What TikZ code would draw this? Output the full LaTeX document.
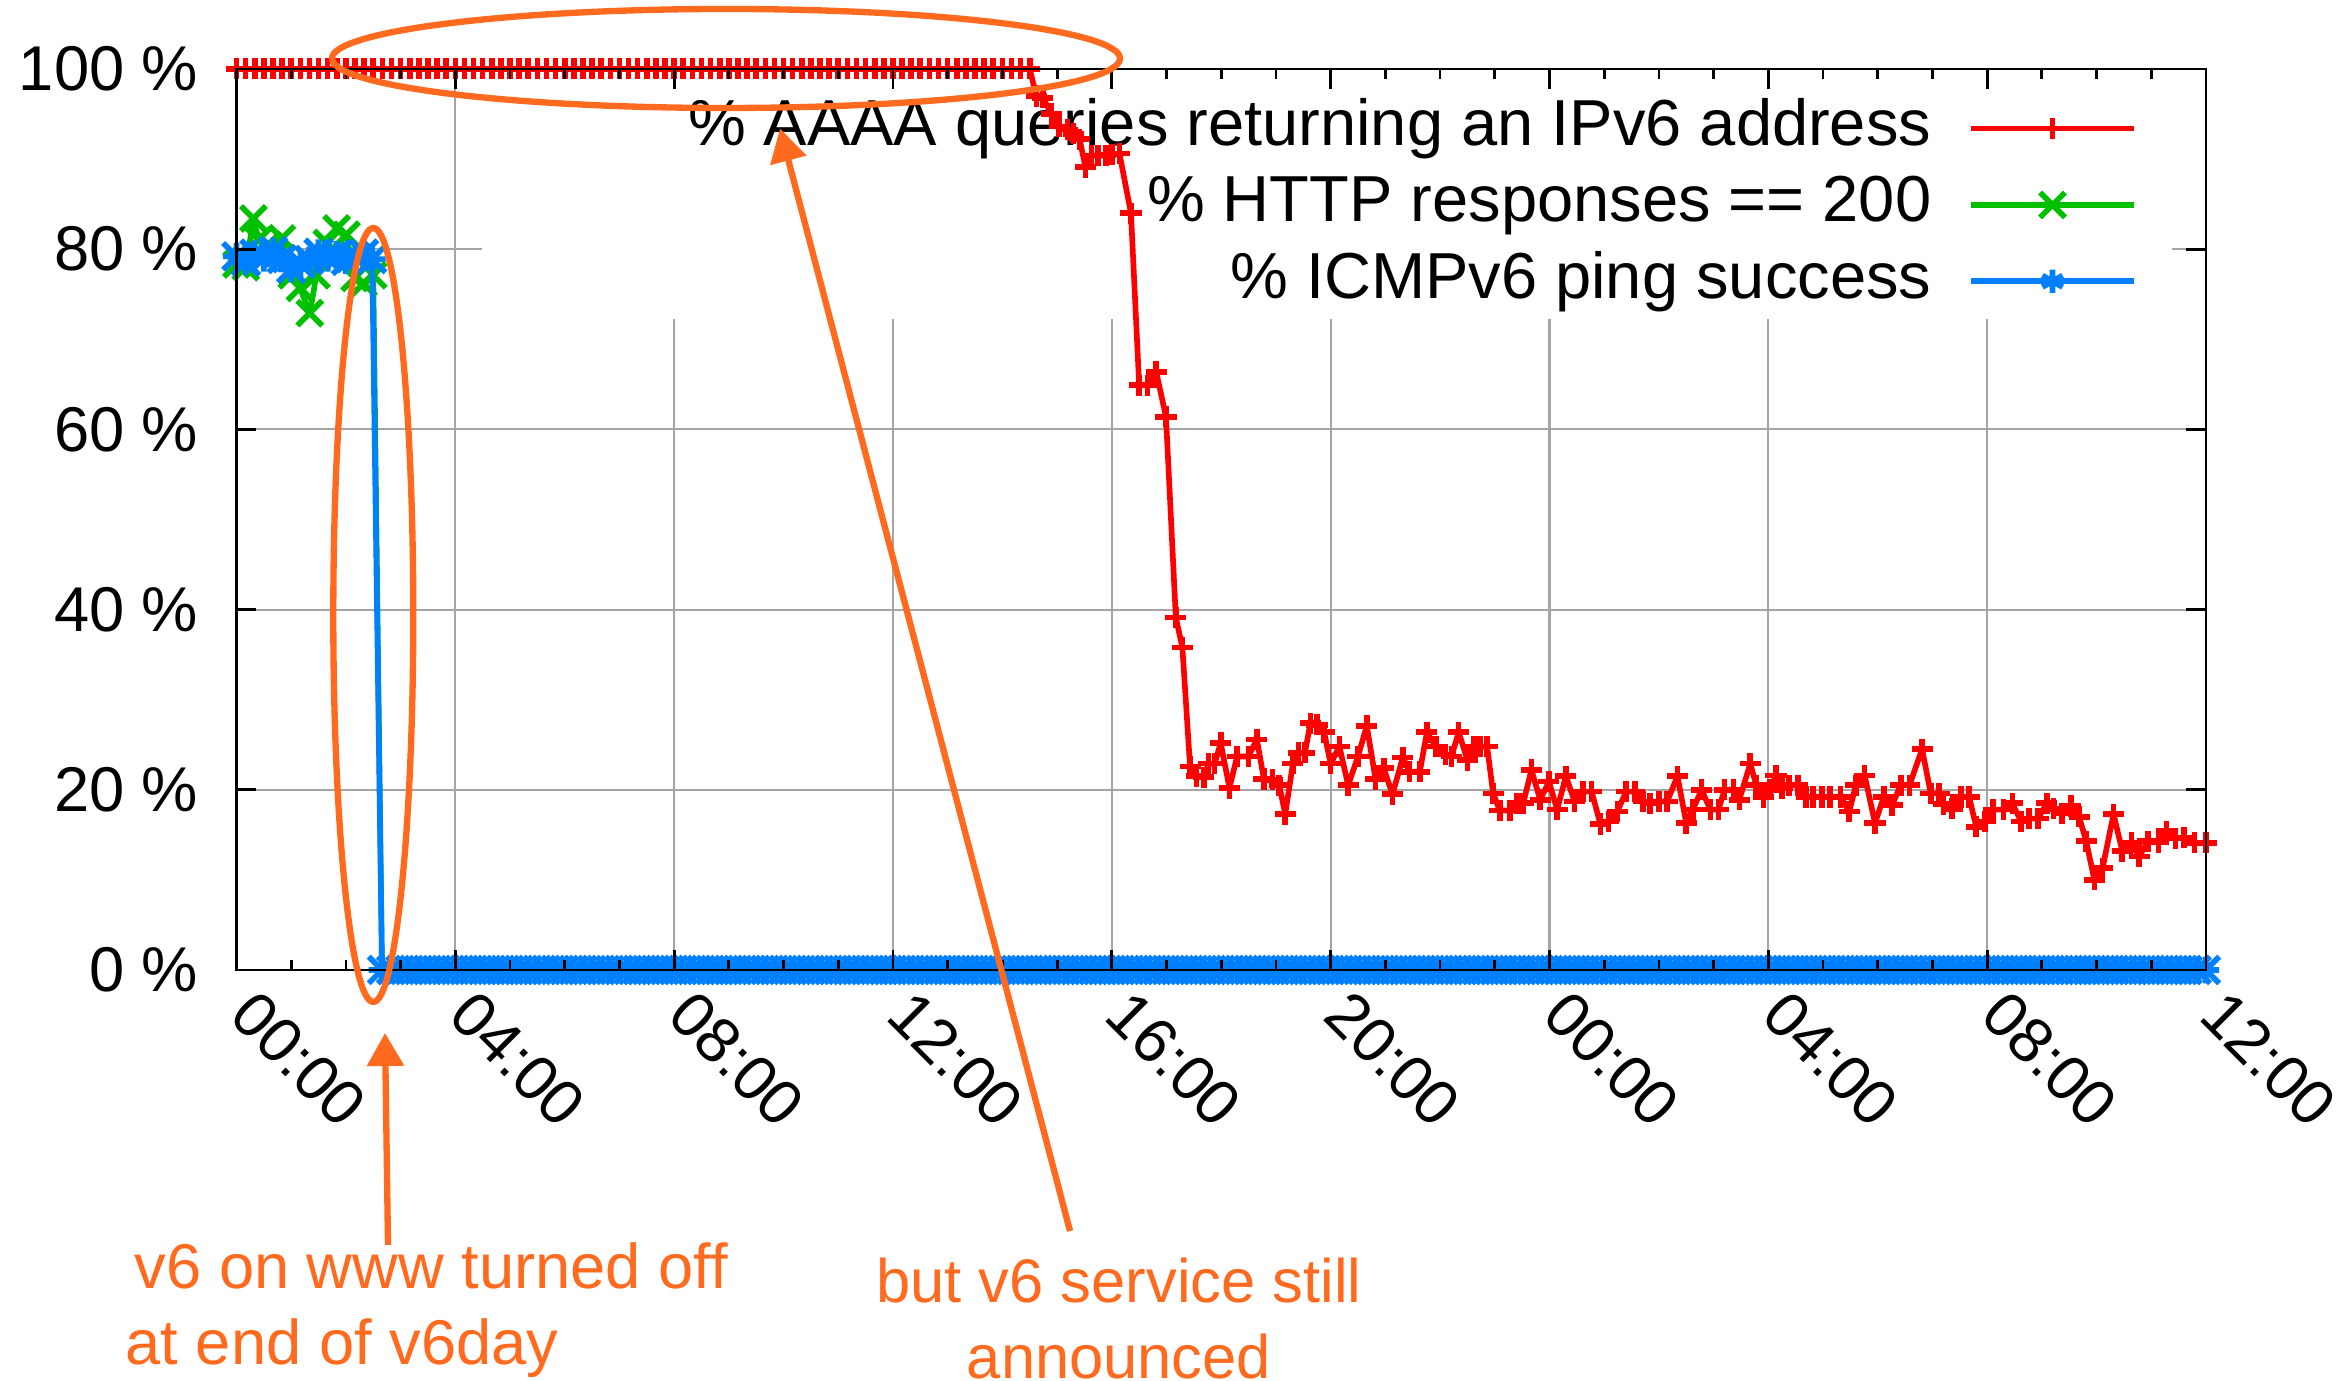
\documentclass[tikz,border=0pt]{standalone}
\usepackage{fontspec}
\setmainfont{Liberation Sans}
\usetikzlibrary{arrows.meta, shapes.geometric, plotmarks}
\definecolor{icmpblue}{RGB}{0, 128, 255}
\definecolor{httpgreen}{RGB}{0, 192, 0}
\definecolor{aaaared}{RGB}{255, 0, 0}
\definecolor{gridgrey}{RGB}{165, 165, 165}
\definecolor{noteorange}{RGB}{255, 106, 30}
% gnuplot style "*": a plus and a cross on top of each other
\pgfdeclareplotmark{plusx}{%
    \pgfpathmoveto{\pgfqpoint{0pt}{\pgfplotmarksize}}
    \pgfpathlineto{\pgfqpoint{0pt}{-\pgfplotmarksize}}
    \pgfpathmoveto{\pgfqpoint{\pgfplotmarksize}{0pt}}
    \pgfpathlineto{\pgfqpoint{-\pgfplotmarksize}{0pt}}
    \pgfpathmoveto{\pgfqpoint{\pgfplotmarksize}{\pgfplotmarksize}}
    \pgfpathlineto{\pgfqpoint{-\pgfplotmarksize}{-\pgfplotmarksize}}
    \pgfpathmoveto{\pgfqpoint{-\pgfplotmarksize}{\pgfplotmarksize}}
    \pgfpathlineto{\pgfqpoint{\pgfplotmarksize}{-\pgfplotmarksize}}
    \pgfusepathqstroke}
\tikzset{
    gridline/.style={draw=gridgrey, line width=0.6pt},
    frame/.style={line width=0.8pt},
    series/.style={line width=1.6pt, line join=round,
        mark options={solid, line width=1.6pt}},
    aaaa/.style={series, aaaared, mark=+, mark size=3pt},
    http/.style={series, httpgreen, mark=x, mark size=5pt},
    icmp/.style={series, icmpblue, mark=plusx, mark size=3.8pt},
    ticklabel/.style={font=\fontsize{18}{21}\selectfont, inner sep=0pt},
    keytext/.style={font=\fontsize{18.5}{22}\selectfont, inner sep=0pt,
        anchor=base east},
    note/.style={draw=noteorange, line width=1.8pt},
    notearrow/.style={note, -{Triangle[width=0.36cm, length=0.33cm]}},
    notetext/.style={text=noteorange, inner sep=0pt},
}

\begin{document}
\begin{tikzpicture}
    \useasboundingbox (-2.365, -4.11) rectangle (21.105, 9.70);

    % grid, left open where the key sits
    \foreach \p in {20, 40, 60}
        \draw[gridline] (0, \p*0.0901) -- (19.695, \p*0.0901);
    \draw[gridline] (0, 7.208) -- (2.455, 7.208) (19.355, 7.208) -- (19.695, 7.208);
    \draw[gridline] (2.18833, 0) -- (2.18833, 9.01);
    \foreach \k in {2, ..., 8}
        \draw[gridline] (\k*2.18833, 0) -- (\k*2.18833, 6.51);

    % key
    \node[keytext] (keyaaaa) at (16.955, 8.243)
        {\% AAAA queries returning an IPv6 address};
    \node[keytext] (keyhttp) at (16.955, 7.48) {\% HTTP responses == 200};
    \node[keytext] (keyicmp) at (16.955, 6.717) {\% ICMPv6 ping success};
    \draw[aaaa] plot[mark indices={2}] coordinates
        {(17.345, 8.413) (18.16, 8.413) (18.975, 8.413)};
    \draw[http] plot[mark indices={2}] coordinates
        {(17.345, 7.65) (18.16, 7.65) (18.975, 7.65)};
    \draw[icmp, mark=asterisk, mark size=3.3pt] plot[mark indices={2}] coordinates
        {(17.345, 6.887) (18.16, 6.887) (18.975, 6.887)};

    % data: hours against percent
    \begin{scope}[x=0.54708cm, y=0.0901cm]
        \draw[http] plot[mark indices={1,...,16}] coordinates {(0, 78.3)
            (0.17, 78.0) (0.31, 83.4) (0.40, 81.0) (0.58, 80.5) (0.83, 81.2)
            (1.01, 77.1) (1.16, 75.7) (1.34, 72.9) (1.46, 77.1) (1.65, 80.7)
            (1.83, 82.3) (2.01, 81.6) (2.16, 76.8) (2.32, 76.2) (2.50, 77.1)
            (2.66, 0)};
        \draw[icmp] plot coordinates {(0, 79.2) (0.17, 78.6) (0.33, 79.5)
            (0.50, 79.0) (0.67, 79.8) (0.83, 78.9) (1.0, 77.8) (1.17, 78.4)
            (1.33, 78.8) (1.50, 79.6) (1.67, 79.0) (1.83, 79.4) (2.0, 78.7)
            (2.17, 79.2) (2.33, 79.5) (2.48, 78.9)}
            -- plot[domain=2.66:36, samples=201] (\x, 0);
        \draw[aaaa] plot[domain=0:14.5, samples=88] (\x, 100)
            -- plot coordinates {(14.62, 97.0) (14.74, 96.8) (14.9, 95.0)
            (15.04, 93.6) (15.19, 93.3) (15.3, 92.8) (15.41, 92.2)
            (15.52, 89.1) (15.63, 90.4) (15.75, 90.4) (15.89, 90.4)
            (16.0, 90.5) (16.14, 90.6) (16.35, 84.0) (16.50, 64.9)
            (16.65, 64.9) (16.81, 66.4) (16.99, 61.4) (17.17, 39.1)
            (17.29, 35.8) (17.43, 22.6) (17.55, 21.5) (17.68, 21.4)
            (17.77, 22.9) (17.88, 22.9) (17.99, 25.2) (18.15, 20.2)
            (18.29, 23.7) (18.50, 23.7) (18.65, 25.6) (18.78, 21.2)
            (18.94, 21.1) (19.06, 20.5) (19.17, 17.3) (19.31, 22.9)
            (19.41, 24.1) (19.53, 24.1) (19.63, 27.4) (19.75, 27.2)
            (19.88, 26.4) (20.00, 22.9) (20.16, 24.8) (20.32, 20.5)
            (20.50, 23.7) (20.66, 27.1) (20.82, 21.2) (20.97, 22.4)
            (21.13, 19.5) (21.32, 23.6) (21.44, 22.0) (21.63, 22.0)
            (21.76, 26.4) (21.92, 24.8) (22.10, 23.9) (22.21, 23.7)
            (22.34, 26.4) (22.50, 23.3) (22.62, 24.8) (22.73, 24.8)
            (22.86, 24.8) (22.97, 19.6) (23.09, 17.7) (23.28, 17.7)
            (23.41, 18.5) (23.52, 18.5) (23.67, 22.2) (23.83, 18.9)
            (23.99, 20.9) (24.14, 17.8) (24.30, 21.5) (24.46, 18.7)
            (24.61, 19.8) (24.77, 19.8) (24.93, 16.2) (25.08, 16.5)
            (25.24, 17.6) (25.40, 19.8) (25.56, 19.8) (25.71, 18.7)
            (25.84, 18.5) (26.00, 18.7) (26.15, 18.7) (26.34, 21.5)
            (26.50, 16.3) (26.62, 17.8) (26.78, 20.0) (26.94, 17.8)
            (27.09, 17.8) (27.20, 20.0) (27.36, 20.0) (27.47, 18.9)
            (27.67, 22.9) (27.78, 20.5) (27.91, 19.2) (28.03, 20.0)
            (28.14, 21.6) (28.25, 20.2) (28.38, 20.5) (28.54, 20.5)
            (28.69, 19.2) (28.82, 19.2) (28.98, 19.2) (29.13, 19.2)
            (29.32, 19.2) (29.48, 17.6) (29.60, 20.5) (29.76, 21.6)
            (29.95, 16.3) (30.11, 19.2) (30.26, 18.3) (30.42, 20.5)
            (30.58, 20.5) (30.81, 24.5) (30.97, 19.6) (31.12, 19.6)
            (31.20, 18.4) (31.36, 17.9) (31.52, 19.2) (31.67, 19.2)
            (31.80, 15.9) (31.96, 16.5) (32.11, 17.8) (32.30, 17.8)
            (32.46, 18.5) (32.62, 16.5) (32.77, 16.8) (32.93, 16.8)
            (33.09, 18.5) (33.21, 17.9) (33.37, 17.4) (33.53, 18.2)
            (33.68, 17.0) (33.81, 14.3) (33.96, 10.0) (34.11, 11.3)
            (34.31, 17.3) (34.47, 13.2) (34.64, 14.1) (34.78, 12.6)
            (34.94, 14.3) (35.13, 14.2) (35.28, 15.4) (35.44, 14.6)
            (35.60, 14.7) (35.79, 14.1) (36.0, 14.1)};
    \end{scope}

    % frame and ticks
    \draw[frame] (0, 0) rectangle (19.695, 9.01);
    \foreach \h in {1, ..., 35}
        \draw[frame] (\h*0.54708, 0) -- ++(0, 0.1)
            (\h*0.54708, 9.01) -- ++(0, -0.1);
    \foreach \k in {1, ..., 8}
        \draw[frame] (\k*2.18833, 0) -- ++(0, 0.2)
            (\k*2.18833, 9.01) -- ++(0, -0.2);
    \foreach \p in {20, 40, 60, 80}
        \draw[frame] (0, \p*0.0901) -- ++(0.2, 0)
            (19.695, \p*0.0901) -- ++(-0.2, 0);
    \foreach \p in {0, 20, ..., 100}
        \node[ticklabel, anchor=east] (ylab\p) at (-0.375, \p*0.0901) {\p\ \%};
    \foreach \k/\t in {0/00:00, 1/04:00, 2/08:00, 3/12:00, 4/16:00, 5/20:00,
            6/00:00, 7/04:00, 8/08:00, 9/12:00}
        \node[ticklabel, rotate=-45, anchor=west] (xlab\k)
            at (\k*2.18833+0.06, -0.33) {\t};

    % annotations
    \node[note, ellipse, minimum width=7.88cm, minimum height=0.99cm,
        inner sep=0pt] (topring) at (4.895, 9.115) {};
    \node[note, ellipse, minimum width=0.80cm, minimum height=7.74cm,
        inner sep=0pt] (dropring) at (1.368, 3.55) {};
    \node[notetext, font=\fontsize{18}{21.5}\selectfont, align=left,
        anchor=north west] (offnote) at (-1.025, -2.72)
        {v6 on www turned off\\\hspace*{-0.09cm}at end of v6day};
    \node[notetext, font=\fontsize{17.5}{21.5}\selectfont, align=center,
        anchor=north] (stillnote) at (8.825, -2.877)
        {but v6 service still\\announced};
    \coordinate (offtip) at (1.485, -0.63);
    \coordinate (stilltip) at (5.435, 8.415);
    \draw[notearrow] ([shift={(2.54, -0.03)}]offnote.north west) -- (offtip);
    \draw[notearrow] ([shift={(-0.49, 0.267)}]stillnote.north) -- (stilltip);
\end{tikzpicture}
\end{document}
